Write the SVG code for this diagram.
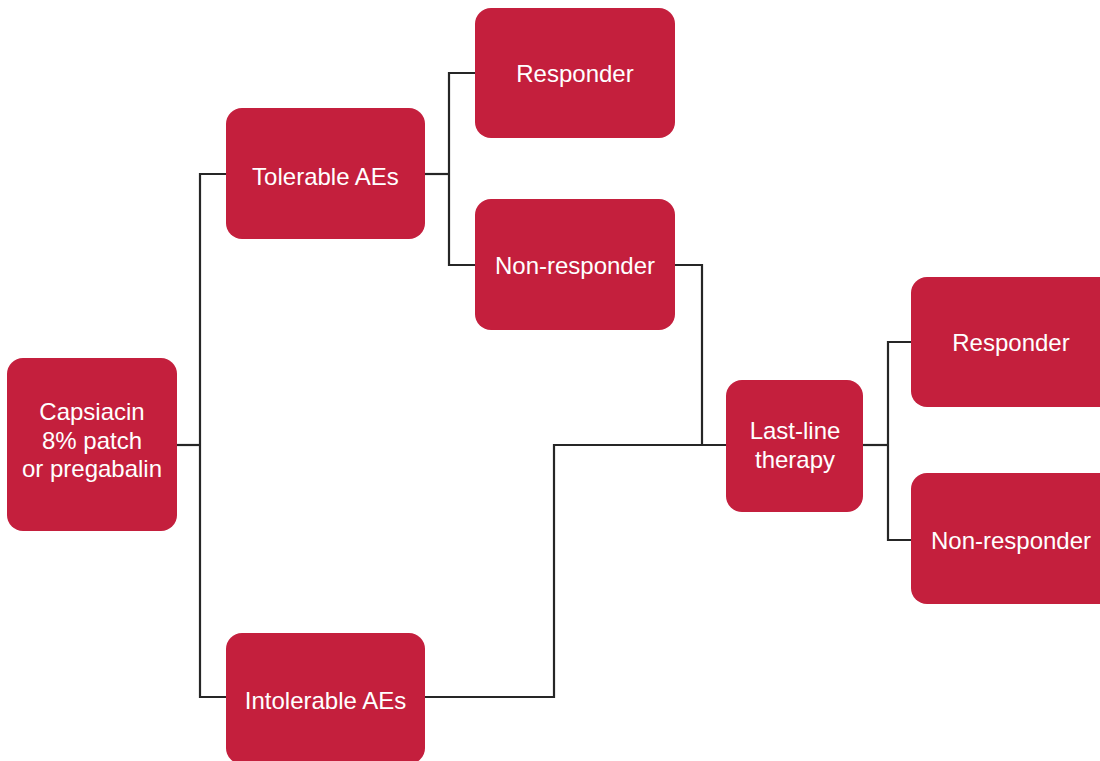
<svg xmlns="http://www.w3.org/2000/svg" width="1100" height="761" viewBox="0 0 1100 761">
<style>
.box{fill:#C41F3D;}
.lbl{fill:#fff;font-family:"Liberation Sans",Arial,sans-serif;font-size:24px;text-anchor:middle;}
.con{fill:none;stroke:#262626;stroke-width:2.2;}
</style>
<rect width="1100" height="761" fill="#fff"/>
<g id="connectors">
<polyline class="con" points="177,445 200,445"/>
<polyline class="con" points="226,174 200,174 200,697 226,697"/>
<polyline class="con" points="425,174 449,174"/>
<polyline class="con" points="475,73 449,73 449,265 475,265"/>
<polyline class="con" points="675,265 702,265 702,445"/>
<polyline class="con" points="425,697 554,697 554,445 726,445"/>
<polyline class="con" points="863,445 888,445"/>
<polyline class="con" points="911,342 888,342 888,540 911,540"/>
</g>
<g id="n1"><rect class="box" x="7" y="358" width="170" height="173" rx="16"/>
<text class="lbl" x="92" y="420">Capsiacin</text><text class="lbl" x="92" y="449">8% patch</text><text class="lbl" x="92" y="477">or pregabalin</text></g>
<g id="n2"><rect class="box" x="226" y="108" width="199" height="131" rx="16"/>
<text class="lbl" x="325.5" y="185">Tolerable AEs</text></g>
<g id="n3"><rect class="box" x="226" y="633" width="199" height="131" rx="16"/>
<text class="lbl" x="325.5" y="709">Intolerable AEs</text></g>
<g id="n4"><rect class="box" x="475" y="8" width="200" height="130" rx="16"/>
<text class="lbl" x="575" y="82">Responder</text></g>
<g id="n5"><rect class="box" x="475" y="199" width="200" height="131" rx="16"/>
<text class="lbl" x="575" y="274">Non-responder</text></g>
<g id="n6"><rect class="box" x="726" y="380" width="137" height="132" rx="16"/>
<text class="lbl" x="795" y="439">Last-line</text><text class="lbl" x="795" y="468">therapy</text></g>
<g id="n7"><rect class="box" x="911" y="277" width="205" height="130" rx="16"/>
<text class="lbl" x="1011" y="351">Responder</text></g>
<g id="n8"><rect class="box" x="911" y="473" width="205" height="131" rx="16"/>
<text class="lbl" x="1011" y="549">Non-responder</text></g>
</svg>
